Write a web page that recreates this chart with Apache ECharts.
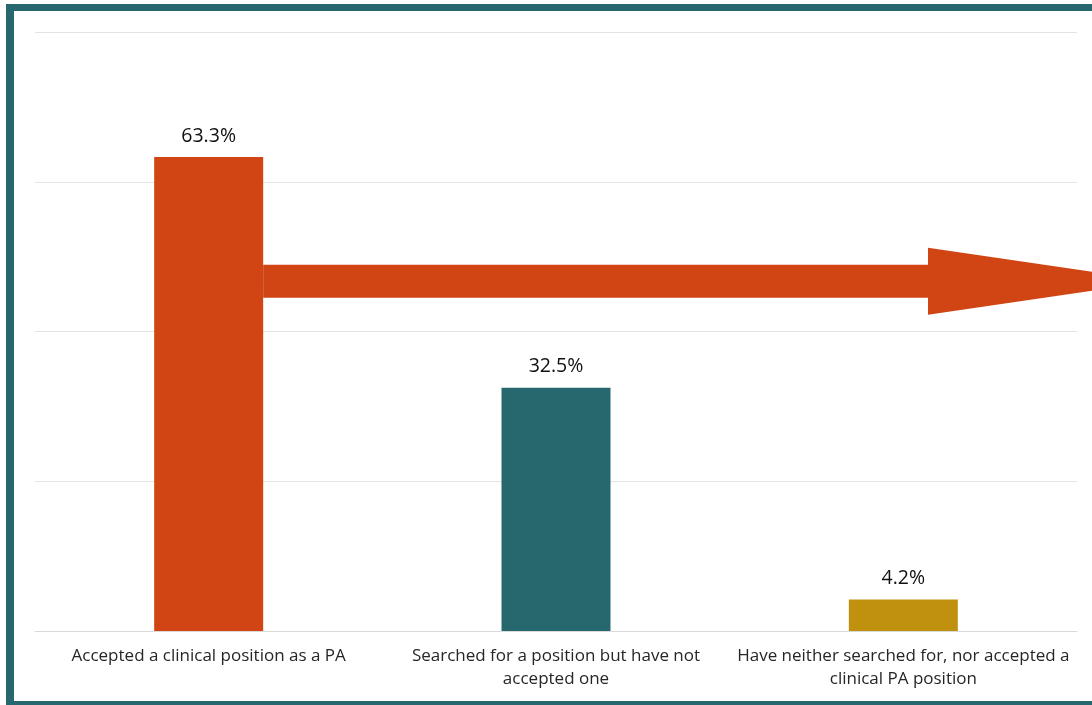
<!DOCTYPE html>
<html>
<head>
<meta charset="utf-8">
<script src="https://cdn.jsdelivr.net/npm/echarts@6/dist/echarts.min.js"></script>
<style>
html,body{margin:0;padding:0;background:#fff;}
#c{width:1092px;height:705px;}
</style>
</head>
<body>
<div id="c"></div>
<script>
const categories = [
  'Accepted a clinical position as a PA',
  'Searched for a position but have not\naccepted one',
  'Have neither searched for, nor accepted a\nclinical PA position'
];
const values = [63.3, 32.5, 4.2];
const barColors = ['#D14515', '#26686D', '#C0900F'];

const chart = echarts.init(document.getElementById('c'), null, {renderer: 'canvas'});
const FONT = '"Open Sans", "Noto Sans", sans-serif';

chart.setOption({
  animation: false,
  backgroundColor: '#fff',
  grid: {left: 35, right: 15, top: 32, bottom: 74, containLabel: false},
  xAxis: {
    type: 'category',
    data: categories,
    axisLine: {show: true, lineStyle: {color: '#d9d9d9', width: 1}},
    axisTick: {show: false},
    axisLabel: {
      interval: 0,
      color: '#262626',
      fontFamily: FONT,
      fontSize: 17,
      lineHeight: 23,
      margin: 14
    }
  },
  yAxis: {
    type: 'value',
    min: 0, max: 80, interval: 20,
    axisLabel: {show: false},
    axisLine: {show: false},
    axisTick: {show: false},
    splitLine: {lineStyle: {color: '#e3e3e3', width: 1}}
  },
  series: [{
    type: 'bar',
    barWidth: 109,
    data: values.map((v, i) => ({value: v, itemStyle: {color: barColors[i]}})),
    label: {
      show: true,
      position: 'top',
      distance: 11,
      formatter: p => p.value.toFixed(1) + '%',
      color: '#111',
      fontFamily: FONT,
      fontSize: 19.5
    }
  }]
});

// decorative arrow + frame
const p0 = chart.convertToPixel({xAxisIndex: 0, yAxisIndex: 0}, [0, 46.7]);
const sx = p0[0] + 54.5;
const cy = p0[1];
const arrowColor = '#D14515';
const frame = '#26686D';
chart.setOption({
  graphic: [
    {type: 'polygon', z: 100, shape: {points: [
      [sx, cy - 16.5], [928, cy - 16.5], [928, cy - 33.5], [1157, cy],
      [928, cy + 33.5], [928, cy + 16.5], [sx, cy + 16.5]
    ]}, style: {fill: arrowColor}},
    {type: 'rect', z: 100, shape: {x: 6, y: 4, width: 1086, height: 7}, style: {fill: frame}},
    {type: 'rect', z: 100, shape: {x: 6, y: 4, width: 8, height: 701}, style: {fill: frame}},
    {type: 'rect', z: 100, shape: {x: 6, y: 701, width: 1086, height: 4}, style: {fill: frame}}
  ]
});
</script>
</body>
</html>
